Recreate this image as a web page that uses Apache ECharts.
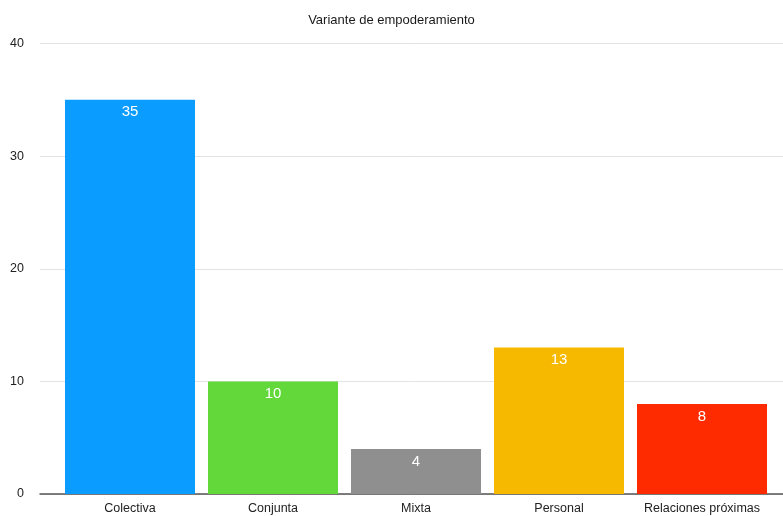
<!DOCTYPE html>
<html>
<head>
<meta charset="utf-8">
<script src="https://cdn.jsdelivr.net/npm/echarts@6/dist/echarts.min.js"></script>
<style>
  html, body { margin: 0; padding: 0; background: #fff; }
  #chart { width: 783px; height: 516px; }
</style>
</head>
<body>
<div id="chart"></div>
<script>
// Empowerment variants: counts per category
const categories = ['Colectiva', 'Conjunta', 'Mixta', 'Personal', 'Relaciones próximas'];
const counts = [35, 10, 4, 13, 8];
const barColors = ['#0A9DFF', '#62D83B', '#8F8F8F', '#F6B900', '#FF2B00'];
const yTicks = { min: 0, max: 40, interval: 10 };

const font = '"Liberation Sans", Arial, Helvetica, sans-serif';

const chart = echarts.init(document.getElementById('chart'), null, { renderer: 'canvas' });

chart.setOption({
  animation: false,
  backgroundColor: '#ffffff',
  title: {
    text: 'Variante de empoderamiento',
    left: 'center',
    top: 9,
    textStyle: { fontFamily: font, fontSize: 13, fontWeight: 'normal', color: '#1a1a1a' }
  },
  grid: [
    // full-width grid carrying the value scale and its gridlines
    { left: 40, right: 0, top: 43.5, bottom: 22 },
    // inset grid holding the bars
    { left: 58.5, right: 9.5, top: 43.5, bottom: 22 }
  ],
  xAxis: [
    {
      type: 'category', gridIndex: 0, data: [''],
      axisLine: { show: true, lineStyle: { color: '#555', width: 1.5 } },
      axisTick: { show: false }, axisLabel: { show: false }
    },
    {
      type: 'category', gridIndex: 1, data: categories,
      axisLine: { show: false }, axisTick: { show: false },
      axisLabel: { interval: 0, fontFamily: font, fontSize: 12.5, color: '#222', margin: 8 }
    }
  ],
  yAxis: [
    {
      type: 'value', gridIndex: 0,
      min: yTicks.min, max: yTicks.max, interval: yTicks.interval,
      axisLine: { show: false }, axisTick: { show: false },
      axisLabel: { fontFamily: font, fontSize: 12.5, color: '#222', margin: 16 },
      splitLine: { lineStyle: { color: '#e3e3e3', width: 1 } }
    },
    {
      type: 'value', gridIndex: 1,
      min: yTicks.min, max: yTicks.max, interval: yTicks.interval,
      show: false, splitLine: { show: false }
    }
  ],
  series: [{
    type: 'bar',
    xAxisIndex: 1, yAxisIndex: 1,
    barWidth: 130,
    data: counts.map((v, i) => ({ value: v, itemStyle: { color: barColors[i] } })),
    label: {
      show: true, position: 'insideTop', distance: 5,
      fontFamily: font, fontSize: 15, color: '#fff'
    }
  }]
});
</script>
</body>
</html>
